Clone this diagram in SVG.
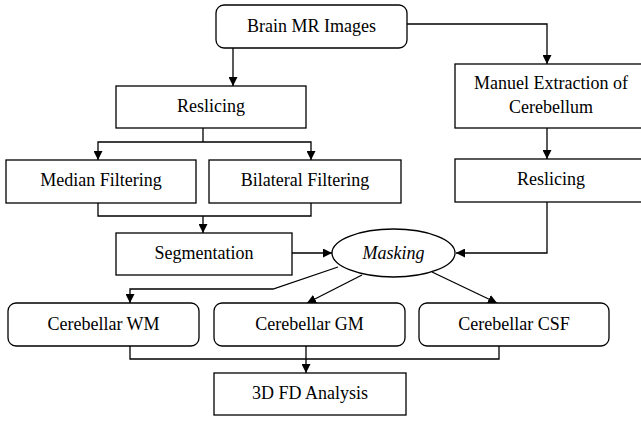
<svg xmlns="http://www.w3.org/2000/svg" width="641" height="421" viewBox="0 0 641 421">
<style>
.box{fill:#fff;stroke:#000;stroke-width:1.3}
.t{font-family:"Liberation Serif","Times New Roman",serif;font-size:18px;fill:#000;text-anchor:middle}
.c{fill:none;stroke:#000;stroke-width:1.3}
</style>
<defs>
<marker id="ah" viewBox="0 0 10 10" refX="10" refY="5" markerWidth="9" markerHeight="9" markerUnits="userSpaceOnUse" orient="auto">
<path d="M0,0 L10,5 L0,10 z" fill="#000"/>
</marker>
</defs>
<rect width="641" height="421" fill="#fff"/>
<g id="connectors">
<path class="c" d="M233,48 V86" marker-end="url(#ah)"/>
<path class="c" d="M407,24 H547 V64" marker-end="url(#ah)"/>
<path class="c" d="M203,128 V142"/>
<path class="c" d="M203,142 H98 V160" marker-end="url(#ah)"/>
<path class="c" d="M203,142 H311 V160" marker-end="url(#ah)"/>
<path class="c" d="M547,128 V159" marker-end="url(#ah)"/>
<path class="c" d="M98,203 V216 H311 V203"/>
<path class="c" d="M203,216 V233" marker-end="url(#ah)"/>
<path class="c" d="M292,253 H332" marker-end="url(#ah)"/>
<path class="c" d="M547,202 V253 H456" marker-end="url(#ah)"/>
<path class="c" d="M338,267 L273,289 H130 V303" marker-end="url(#ah)"/>
<path class="c" d="M362,275 L307,303" marker-end="url(#ah)"/>
<path class="c" d="M432,272 L497,303" marker-end="url(#ah)"/>
<path class="c" d="M130,346 V359 H499 V346"/>
<path class="c" d="M306,346 V373" marker-end="url(#ah)"/>
</g>
<g id="brain"><rect class="box" x="216" y="5" width="191" height="43" rx="8"/><text class="t" x="311.5" y="32">Brain MR Images</text></g>
<g id="reslicing1"><rect class="box" x="116" y="86" width="190" height="42"/><text class="t" x="211" y="112">Reslicing</text></g>
<g id="manuel"><rect class="box" x="455" y="64" width="192" height="64"/><text class="t" x="551" y="89">Manuel Extraction of</text><text class="t" x="551" y="113">Cerebellum</text></g>
<g id="median"><rect class="box" x="6" y="160" width="190" height="43"/><text class="t" x="101" y="186">Median Filtering</text></g>
<g id="bilateral"><rect class="box" x="209" y="160" width="192" height="43"/><text class="t" x="305" y="186">Bilateral Filtering</text></g>
<g id="reslicing2"><rect class="box" x="455" y="159" width="192" height="43"/><text class="t" x="551" y="185">Reslicing</text></g>
<g id="segmentation"><rect class="box" x="116" y="233" width="176" height="42"/><text class="t" x="204" y="259">Segmentation</text></g>
<g id="masking"><ellipse class="box" cx="393.5" cy="253" rx="61.5" ry="24"/><text class="t" x="393.5" y="259" font-style="italic">Masking</text></g>
<g id="wm"><rect class="box" x="8" y="303" width="191" height="43" rx="8"/><text class="t" x="103.5" y="330">Cerebellar WM</text></g>
<g id="gm"><rect class="box" x="214" y="303" width="191" height="43" rx="8"/><text class="t" x="309.5" y="330">Cerebellar GM</text></g>
<g id="csf"><rect class="box" x="419" y="303" width="190" height="43" rx="8"/><text class="t" x="514" y="330">Cerebellar CSF</text></g>
<g id="fd"><rect class="box" x="214" y="373" width="192" height="42"/><text class="t" x="310" y="399">3D FD Analysis</text></g>
</svg>
